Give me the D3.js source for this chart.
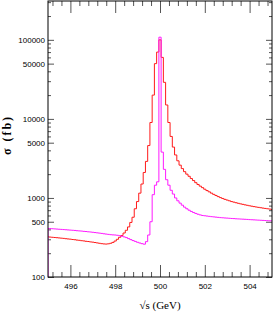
<!DOCTYPE html>
<html>
<head>
<meta charset="utf-8">
<script src="https://cdn.jsdelivr.net/npm/d3@7"></script>
<style>
  html, body { margin: 0; padding: 0; background: #fff; }
  svg { display: block; }
</style>
</head>
<body>
<svg id="chart"></svg>
<script>
// bin centres every 0.1 GeV, 495.0 .. 505.0
const energy = d3.range(0, 101).map((i) => +(495 + i * 0.1).toFixed(1));

// red histogram (fb)
const sigmaRed = [
  322, 320, 318, 316, 314, 312, 310, 308, 305, 303,
  301, 298, 296, 293, 291, 288, 286, 283, 281, 278,
  276, 273, 270, 267, 264, 262, 261, 263, 267, 274,
  285, 300, 318, 335, 360, 390, 430, 490, 570, 730,
  900, 1150, 1500, 2100, 2900, 4600, 9000, 20000, 50000, 70000,
  100000, 60000, 29000, 15000, 9000, 6000, 4400, 3500, 2950, 2600,
  2350, 2150, 2000, 1880, 1760, 1660, 1560, 1480, 1410, 1350,
  1290, 1240, 1195, 1150, 1110, 1075, 1040, 1010, 985, 960,
  940, 920, 900, 885, 870, 855, 842, 830, 818, 807,
  796, 786, 777, 768, 760, 752, 744, 737, 730, 723,
  716
];

// magenta histogram (fb)
const sigmaMagenta = [
  412, 410, 408, 406, 404, 402, 400, 398, 396, 394,
  392, 390, 388, 385, 383, 381, 378, 376, 373, 371,
  368, 365, 362, 359, 356, 352, 349, 346, 343, 341,
  340, 337, 333, 328, 322, 315, 306, 297, 289, 282,
  275, 269, 264, 260, 280, 340, 500, 1100, 1450, 1600,
  108000, 3800, 2300, 1700, 1450, 1250, 1120, 1000, 920, 860,
  810, 765, 730, 700, 675, 655, 637, 622, 610, 600,
  595, 590, 585, 580, 576, 572, 568, 564, 561, 558,
  556, 553, 550, 548, 545, 543, 541, 539, 537, 535,
  532, 530, 528, 526, 524, 522, 520, 518, 516, 514,
  513
];

const xMajor = [496, 498, 500, 502, 504];
const xMinor = [495.2, 495.6, 496.4, 496.8, 497.2, 497.6, 498.4, 498.8, 499.2, 499.6,
  500.4, 500.8, 501.2, 501.6, 502.4, 502.8, 503.2, 503.6, 504.4, 504.8];
const yMajor = [100, 500, 1000, 5000, 10000, 50000, 100000];
const yMinor = [200, 300, 400, 600, 700, 800, 900, 2000, 3000, 4000, 6000, 7000, 8000, 9000,
  20000, 30000, 40000, 60000, 70000, 80000, 90000, 200000, 300000];

const width = 273;
const height = 316;
const margin = { top: 1, right: 1, bottom: 39, left: 48 };
const innerW = width - margin.left - margin.right;
const innerH = height - margin.top - margin.bottom;

const svg = d3.select("#chart").attr("width", width).attr("height", height);

const x = d3.scaleLinear().domain([495, 505]).range([0, innerW]);
const y = d3.scaleLog().domain([100, 310000]).range([innerH, 0]);

const g = svg.append("g").attr("transform", `translate(${margin.left},${margin.top})`);

svg.append("defs").append("clipPath").attr("id", "plot-clip")
  .append("rect").attr("width", innerW).attr("height", innerH);

const tickFont = "'Liberation Sans', Arial, sans-serif";

function styleAxis(sel) {
  sel.select(".domain").remove();
  sel.selectAll("line").attr("stroke", "#555").attr("stroke-width", 1);
  sel.selectAll("text")
    .style("font-family", tickFont)
    .style("font-size", "8px")
    .attr("fill", "#000");
}

// bottom + top axes, ticks pointing in
g.append("g").attr("transform", `translate(0,${innerH})`)
  .call(d3.axisBottom(x).tickValues(xMajor).tickSize(-12).tickPadding(6).tickFormat(d3.format("d")))
  .call(styleAxis);
g.append("g").attr("transform", `translate(0,${innerH})`)
  .call(d3.axisBottom(x).tickValues(xMinor).tickSize(-5).tickFormat(""))
  .call(styleAxis);
g.append("g")
  .call(d3.axisTop(x).tickValues(xMajor).tickSize(-12).tickFormat(""))
  .call(styleAxis);
g.append("g")
  .call(d3.axisTop(x).tickValues(xMinor).tickSize(-5).tickFormat(""))
  .call(styleAxis);

// left + right axes
g.append("g")
  .call(d3.axisLeft(y).tickValues(yMajor).tickSize(-6).tickPadding(3).tickFormat(d3.format("d")))
  .call(styleAxis);
g.append("g")
  .call(d3.axisLeft(y).tickValues(yMinor).tickSize(-3).tickFormat(""))
  .call(styleAxis);
g.append("g").attr("transform", `translate(${innerW},0)`)
  .call(d3.axisRight(y).tickValues(yMajor).tickSize(-6).tickFormat(""))
  .call(styleAxis);
g.append("g").attr("transform", `translate(${innerW},0)`)
  .call(d3.axisRight(y).tickValues(yMinor).tickSize(-3).tickFormat(""))
  .call(styleAxis);

// histograms
const line = d3.line()
  .x((d) => x(d[0]))
  .y((d) => y(d[1]))
  .curve(d3.curveStep);

const plot = g.append("g").attr("clip-path", "url(#plot-clip)");

plot.append("path")
  .datum(energy.map((e, i) => [e, sigmaRed[i]]))
  .attr("d", line)
  .attr("fill", "none")
  .attr("stroke", "#ff1a1a")
  .attr("stroke-width", 1);

// magenta one rises from the baseline at the left edge
plot.append("path")
  .datum([[energy[0], y.domain()[0]]].concat(energy.map((e, i) => [e, sigmaMagenta[i]])))
  .attr("d", line)
  .attr("fill", "none")
  .attr("stroke", "#ff1aff")
  .attr("stroke-width", 1);

// frame
g.append("rect")
  .attr("width", innerW)
  .attr("height", innerH)
  .attr("fill", "none")
  .attr("stroke", "#000")
  .attr("stroke-width", 1);

// titles
svg.append("text")
  .attr("x", margin.left + x(500))
  .attr("y", 309)
  .attr("text-anchor", "middle")
  .style("font-family", "'Liberation Serif', 'Times New Roman', serif")
  .style("font-size", "11px")
  .text("√s (GeV)");

svg.append("text")
  .attr("transform", "translate(11,135) rotate(-90)")
  .attr("text-anchor", "middle")
  .style("font-family", "'Liberation Serif', 'Times New Roman', serif")
  .style("font-size", "12px")
  .style("font-weight", "bold")
  .style("letter-spacing", "2px")
  .text("σ (fb)");
</script>
</body>
</html>
